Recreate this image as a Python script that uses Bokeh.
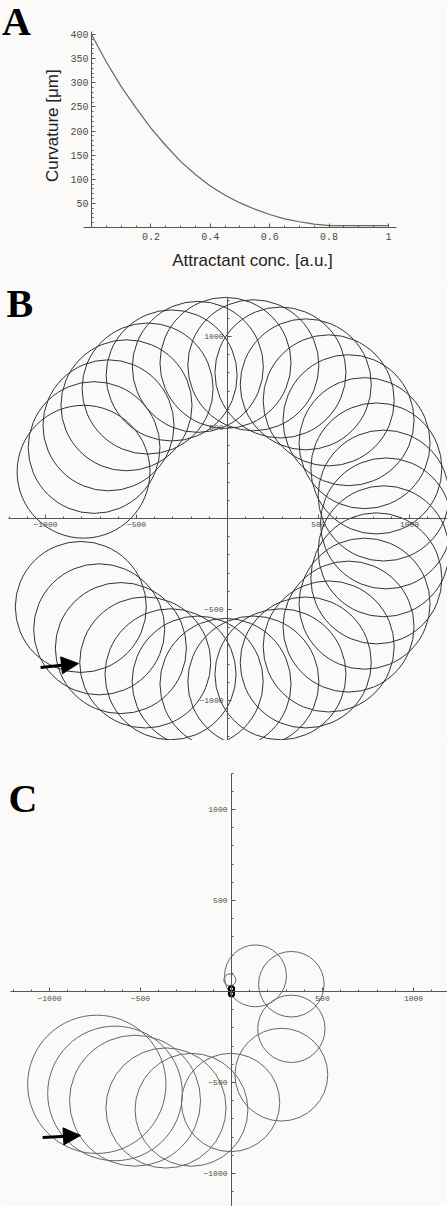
import math
from bokeh.plotting import figure
from bokeh.models import LinearAxis, FixedTicker, Label, Arrow, NormalHead, Range1d
from bokeh.layouts import column
from bokeh.embed import file_html
from bokeh.resources import INLINE

BG = "#fbfaf8"

# ---------------- Panel A data ----------------
a_conc = [0.0, 0.05, 0.1, 0.15, 0.2, 0.25, 0.3, 0.35, 0.4, 0.45, 0.5,
          0.55, 0.6, 0.65, 0.7, 0.75, 0.8, 0.85, 0.9, 0.95, 1.0]
a_curv = [400, 343, 292, 248, 206, 170, 137, 110, 86, 67, 51,
          38, 27, 18, 12, 7, 4, 4, 4, 4, 4]
a_xticks = [0.2, 0.4, 0.6, 0.8, 1.0]
a_xtick_labels = ["0.2", "0.4", "0.6", "0.8", "1"]
a_yticks = [50, 100, 150, 200, 250, 300, 350, 400]
a_xminor = [0.05, 0.1, 0.15, 0.25, 0.3, 0.35, 0.45, 0.5, 0.55,
            0.65, 0.7, 0.75, 0.85, 0.9, 0.95]
a_yminor = [10, 20, 30, 40, 60, 70, 80, 90, 110, 120, 130, 140,
            160, 170, 180, 190, 210, 220, 230, 240, 260, 270,
            280, 290, 310, 320, 330, 340, 360, 370, 380, 390]

# ---------------- Panel B data (loop centres and radii) ----------------
b_cx = [-806, -705, -586, -452, -313, -164, -11, 142, 291, 430, 556, 665,
        753, 818, 858, 871, 858, 818, 753, 665, 556, 430, 291, 142, -11,
        -163, -307, -439, -555, -654, -733, -791]
b_cy = [-486, -609, -712, -791, -856, -896, -909, -896, -856, -791, -703, -594,
        -468, -329, -180, -27, 126, 275, 414, 540, 649, 737, 802, 842, 855,
        833, 786, 714, 622, 512, 390, 257]
b_r = [360, 360, 360, 360, 360, 360, 360, 360, 360, 360, 360, 360,
       360, 360, 360, 360, 360, 360, 360, 360, 360, 360, 360, 360, 360,
       360, 360, 360, 360, 360, 362, 365]
b_ticks = [-1000, -500, 500, 1000]

# ---------------- Panel C data (loop centres and radii) ----------------
c_cx = [-740, -640, -530, -360, -220, -5, 274, 329, 329, 132, -9]
c_cy = [-510, -560, -600, -640, -650, -610, -457, -205, 40, 86, 64]
c_r = [380, 370, 360, 330, 310, 270, 255, 185, 180, 170, 33]
c_start_x = [0, 0]
c_start_y = [14, -12]
c_start_r = [14, 14]
c_ticks = [-1000, -500, 500, 1000]

minor_ticks = [-1200, -1100, -900, -800, -700, -600, -400, -300, -200, -100,
               100, 200, 300, 400, 600, 700, 800, 900, 1100, 1200]

AXIS_COL = "#555555"
W = 447


def make_fig(height, xr, yr):
    p = figure(width=W, height=height, x_range=Range1d(*xr), y_range=Range1d(*yr),
               output_backend="svg", toolbar_location=None,
               x_axis_location=None, y_axis_location=None,
               min_border_left=0, min_border_right=0, min_border_top=0, min_border_bottom=0)
    p.background_fill_color = BG
    p.border_fill_color = BG
    p.outline_line_color = None
    p.xgrid.visible = False
    p.ygrid.visible = False
    return p


def make_axis(ticks, minor, bounds, font_size, standoff):
    ax = LinearAxis(fixed_location=0, ticker=FixedTicker(ticks=ticks, minor_ticks=minor),
                    bounds=bounds)
    ax.axis_line_color = AXIS_COL
    ax.major_tick_line_color = AXIS_COL
    ax.minor_tick_line_color = AXIS_COL
    ax.major_tick_in = 4
    ax.major_tick_out = 0
    ax.minor_tick_in = 2
    ax.minor_tick_out = 0
    ax.major_label_text_font = "Liberation Mono"
    ax.major_label_text_font_size = font_size
    ax.major_label_text_color = "#4a4a4a"
    ax.major_label_standoff = standoff
    return ax


def letter(p, x, y, text):
    p.add_layout(Label(x=x, y=y, text=text, text_font="Liberation Serif",
                       text_font_size="40px", text_font_style="bold", text_color="black",
                       text_align="left", text_baseline="alphabetic"))


# ================= Panel A =================
pA = make_fig(280, (-0.3064, 1.1987), (-109.8, 470.5))
pA.line(a_conc, a_curv, line_color="#666666", line_width=1.2)
ax_ax = make_axis(a_xticks, a_xminor, (-0.027, 1.027), "10px", 5)
ax_ax.major_label_overrides = dict(zip(a_xticks, a_xtick_labels))
ay_ax = make_axis(a_yticks, a_yminor, (0, 406), "10px", 3)
pA.add_layout(ax_ax, "below")
pA.add_layout(ay_ax, "left")
pA.add_layout(Label(x=0.542, y=-68.4, text="Attractant conc. [a.u.]",
                    text_font="Liberation Sans", text_font_size="17px", text_color="#222222",
                    text_align="center", text_baseline="middle"))
pA.add_layout(Label(x=-0.131, y=211, text="Curvature [μm]", angle=math.pi / 2,
                    text_font="Liberation Sans", text_font_size="17px", text_color="#222222",
                    text_align="center", text_baseline="middle"))
letter(pA, -0.301, 428, "A")

# ================= Panel B =================
pB = make_fig(460, (-1247.3, 1208.8), (-1219.8, 1307.7))
pB.circle(x=b_cx, y=b_cy, radius=b_r, fill_color=None, line_color="#333333", line_width=1)
pB.add_layout(make_axis(b_ticks, minor_ticks, (-1203, 1210), "8px", 4), "below")
pB.add_layout(make_axis(b_ticks, minor_ticks, (-1220, 1214), "8px", 4), "left")
pB.add_layout(Arrow(end=NormalHead(size=17, fill_color="black", line_color="black"),
                    x_start=-1027, y_start=-819, x_end=-819, y_end=-797,
                    line_width=3, line_color="black"))
letter(pB, -1214, 1184, "B")

# ================= Panel C =================
pC = make_fig(466, (-1269.2, 1186.8), (-1181.3, 1379.1))
pC.circle(x=c_cx, y=c_cy, radius=c_r, fill_color=None, line_color="#666666", line_width=1)
pC.circle(x=c_start_x, y=c_start_y, radius=c_start_r, fill_color=None,
          line_color="black", line_width=2.2)
pC.add_layout(make_axis(c_ticks, minor_ticks, (-1214, 1187), "8px", 4), "below")
pC.add_layout(make_axis(c_ticks, minor_ticks, (-1182, 1198), "8px", 4), "left")
pC.add_layout(Arrow(end=NormalHead(size=17, fill_color="black", line_color="black"),
                    x_start=-1038, y_start=-802, x_end=-830, y_end=-791,
                    line_width=3, line_color="black"))
letter(pC, -1225, 1062, "C")

layout = column(pA, pB, pC, spacing=0)
open("out.html", "w").write(file_html(layout, INLINE))
